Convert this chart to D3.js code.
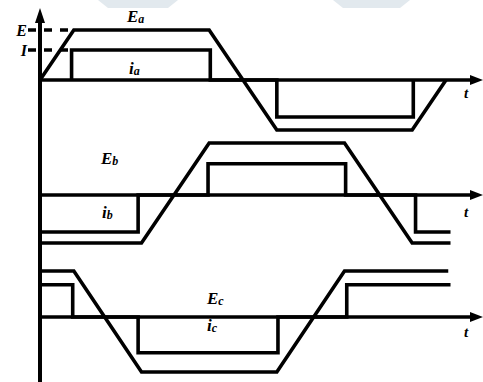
<!DOCTYPE html>
<html>
<head>
<meta charset="utf-8">
<script src="https://cdn.jsdelivr.net/npm/d3@7"></script>
<style>
  html, body { margin: 0; padding: 0; background: #fff; }
  svg { display: block; }
  .lbl { font-family: "Liberation Serif", "Times New Roman", serif; font-weight: bold; font-style: italic; fill: #000; }
</style>
</head>
<body>
<div id="chart"></div>
<script>
  // vertices: [electrical angle (deg), value in units of E]
  var emfA = [[0, 0], [30, 1], [150, 1], [210, -1], [330, -1], [360, 0]];
  var emfB = [[0, -1], [90, -1], [150, 1], [270, 1], [330, -1], [364, -1]];
  var emfC = [[0, 1], [30, 1], [90, -1], [210, -1], [270, 1], [362, 1]];

  var curA = [[28, 0], [28, 0.6], [151, 0.6], [151, 0], [210, 0], [210, -0.74], [331, -0.74], [331, 0]];
  var curB = [[0, -0.77], [87, -0.77], [87, 0], [149, 0], [149, 0.6], [271, 0.6], [271, 0], [333, 0], [333, -0.77], [364, -0.77]];
  var curC = [[0, 0.7], [29, 0.7], [29, 0], [87, 0], [87, -0.65], [211, -0.65], [211, 0], [272, 0], [272, 0.7], [364, 0.7]];

  var emfNames = ["E", "E", "E"];
  var emfSubs = ["a", "b", "c"];
  var levelNames = ["E", "I"];
  var levelValues = [1, 0.6];

  var width = 483, height = 382;
  var axisX = 40;

  // pixel layout of each trace: zero line, +E and -E rows
  var rows = [
    {emf: emfA, cur: curA, zero: 80, top: 30, bottom: 130, emfLbl: [127, 22], curLbl: [129, 74], tLbl: 98},
    {emf: emfB, cur: curB, zero: 195, top: 143, bottom: 243, emfLbl: [101, 164], curLbl: [102, 218], tLbl: 217},
    {emf: emfC, cur: curC, zero: 317, top: 271, bottom: 372, emfLbl: [207, 304], curLbl: [207, 331], tLbl: 337}
  ];

  var x = d3.scaleLinear().domain([0, 180]).range([axisX, 243]);

  var svg = d3.select("#chart").append("svg")
    .attr("width", width)
    .attr("height", height);

  // faint watermark edge at the top
  svg.append("path")
    .attr("d", "M98,0 L178,0 L168,8 L108,8 Z M333,0 L410,0 L400,8 L343,8 Z")
    .attr("fill", "#e2e9ee");

  rows.forEach(function(r, i) {
    var y = d3.scaleLinear().domain([-1, 0, 1]).range([r.bottom, r.zero, r.top]);
    var line = d3.line()
      .x(function(d) { return x(d[0]); })
      .y(function(d) { return y(d[1]); });

    // time axis with arrow
    svg.append("line")
      .attr("x1", axisX).attr("x2", 472)
      .attr("y1", r.zero).attr("y2", r.zero)
      .attr("stroke", "#000").attr("stroke-width", 3.6);
    svg.append("path")
      .attr("d", "M483," + r.zero + " L470," + (r.zero - 5) + " L470," + (r.zero + 5) + " Z")
      .attr("fill", "#000");
    svg.append("text").attr("class", "lbl")
      .attr("x", 464).attr("y", r.tLbl)
      .attr("font-size", 15)
      .text("t");

    svg.append("path")
      .attr("d", line(r.emf))
      .attr("fill", "none").attr("stroke", "#000")
      .attr("stroke-width", 3.6).attr("stroke-linejoin", "miter");
    svg.append("path")
      .attr("d", line(r.cur))
      .attr("fill", "none").attr("stroke", "#000")
      .attr("stroke-width", 3.6).attr("stroke-linejoin", "miter");

    var el = svg.append("text").attr("class", "lbl")
      .attr("x", r.emfLbl[0]).attr("y", r.emfLbl[1])
      .attr("font-size", 17);
    el.append("tspan").text(emfNames[i]);
    el.append("tspan").attr("font-size", 12).attr("dy", 1).text(emfSubs[i]);

    var il = svg.append("text").attr("class", "lbl")
      .attr("x", r.curLbl[0]).attr("y", r.curLbl[1])
      .attr("font-size", 17);
    il.append("tspan").text("i");
    il.append("tspan").attr("font-size", 12).attr("dy", 1).text(emfSubs[i]);

    if (i === 0) {
      // dashed E and I levels
      levelValues.forEach(function(v, k) {
        svg.append("line")
          .attr("x1", 28).attr("x2", x(28))
          .attr("y1", y(v)).attr("y2", y(v))
          .attr("stroke", "#000").attr("stroke-width", 3.6)
          .attr("stroke-dasharray", "8,8");
        svg.append("text").attr("class", "lbl")
          .attr("x", 27).attr("y", y(v) + 6)
          .attr("text-anchor", "end")
          .attr("font-size", 16)
          .text(levelNames[k]);
      });
    }
  });

  // vertical axis with arrow
  svg.append("line")
    .attr("x1", axisX).attr("x2", axisX)
    .attr("y1", height).attr("y2", 20)
    .attr("stroke", "#000").attr("stroke-width", 4);
  svg.append("path")
    .attr("d", "M" + axisX + ",8 L" + (axisX - 5) + ",23 L" + (axisX + 5) + ",23 Z")
    .attr("fill", "#000");
</script>
</body>
</html>
